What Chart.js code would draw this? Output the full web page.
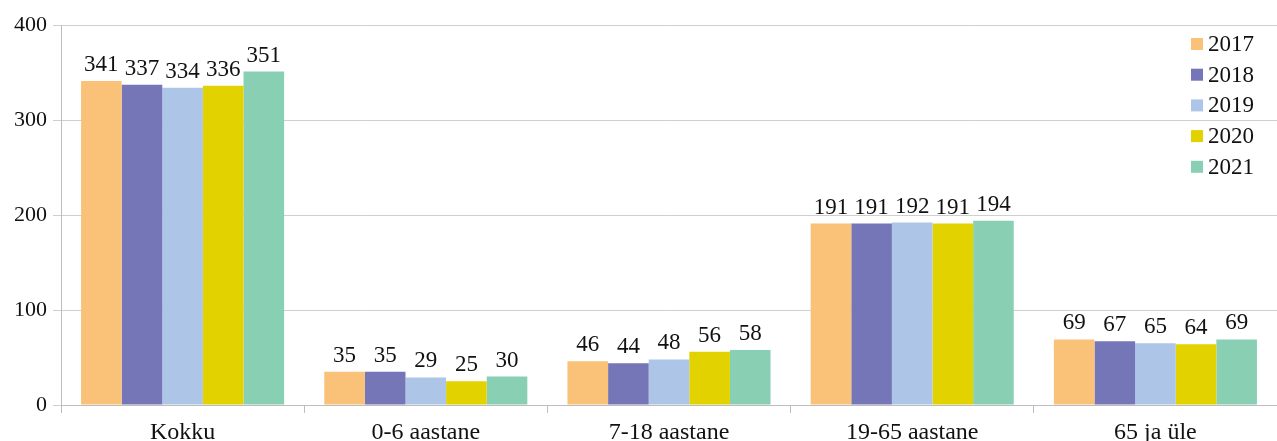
<!DOCTYPE html>
<html>
<head>
<meta charset="utf-8">
<script src="https://cdn.jsdelivr.net/npm/chart.js@4"></script>
<style>
  html, body { margin: 0; padding: 0; background: #fff; }
  #wrap { width: 1277px; height: 441px; }
</style>
</head>
<body>
<div id="wrap"><canvas id="chart1" width="1277" height="441"></canvas></div>
<script>
// categories and values
const categories = ['Kokku', '0-6 aastane', '7-18 aastane', '19-65 aastane', '65 ja üle'];
const years = ['2017', '2018', '2019', '2020', '2021'];
const v2017 = [341, 35, 46, 191, 69];
const v2018 = [337, 35, 44, 191, 67];
const v2019 = [334, 29, 48, 192, 65];
const v2020 = [336, 25, 56, 191, 64];
const v2021 = [351, 30, 58, 194, 69];
const yTicks = [0, 100, 200, 300, 400];

const colors = ['rgb(250,194,120)', 'rgb(116,118,184)', 'rgb(173,198,232)', 'rgb(226,210,0)', 'rgb(137,207,180)'];
const FONT = '"Liberation Serif", "Times New Roman", serif';

// numbers above bars
const valueLabels = {
  id: 'valueLabels',
  afterDatasetsDraw(chart) {
    const ctx = chart.ctx;
    ctx.save();
    ctx.font = '23px ' + FONT;
    ctx.fillStyle = '#111';
    ctx.textAlign = 'center';
    ctx.textBaseline = 'alphabetic';
    chart.data.datasets.forEach((ds, i) => {
      chart.getDatasetMeta(i).data.forEach((bar, j) => {
        ctx.fillText(ds.data[j], bar.x, bar.y - 10);
      });
    });
    ctx.restore();
  }
};

// legend in the top right corner, inside the plot
const cornerLegend = {
  id: 'cornerLegend',
  afterDraw(chart) {
    const ctx = chart.ctx;
    ctx.save();
    ctx.font = '23px ' + FONT;
    ctx.textBaseline = 'middle';
    chart.data.datasets.forEach((ds, i) => {
      const y = 44 + i * 30.7;
      ctx.fillStyle = ds.backgroundColor;
      ctx.fillRect(1191, y - 6, 12, 12);
      ctx.fillStyle = '#111';
      ctx.fillText(ds.label, 1208, y + 1);
    });
    ctx.restore();
  }
};

const series = [v2017, v2018, v2019, v2020, v2021];

const data = {
  labels: categories,
  datasets: years.map((y, i) => ({
    label: y,
    data: series[i],
    backgroundColor: colors[i],
    borderWidth: 0,
    categoryPercentage: 0.835,
    barPercentage: 1.0
  }))
};

const config = {
  type: 'bar',
  data: data,
  options: {
    responsive: false,
    animation: false,
    layout: { padding: { top: 25, right: 0, left: 0, bottom: 0 } },
    plugins: {
      legend: { display: false },
      tooltip: { enabled: false }
    },
    scales: {
      x: {
        grid: { drawOnChartArea: false, offset: true, tickLength: 8, color: '#bdbdbd' },
        border: { color: '#bdbdbd', width: 1 },
        ticks: { font: { family: FONT, size: 24 }, color: '#111', padding: 5, maxRotation: 0 },
        afterFit(scale) { scale.height = 36; }
      },
      y: {
        min: 0,
        max: 400,
        afterBuildTicks(scale) { scale.ticks = yTicks.map(v => ({ value: v })); },
        grid: { color: '#cfcfcf', tickLength: 8 },
        border: { color: '#bdbdbd', width: 1 },
        ticks: { font: { family: FONT, size: 22 }, color: '#111', padding: 6 },
        afterFit(scale) { scale.width = 61; }
      }
    }
  },
  plugins: [valueLabels, cornerLegend]
};

const myChart = new Chart(document.getElementById('chart1'), config);
</script>
</body>
</html>
